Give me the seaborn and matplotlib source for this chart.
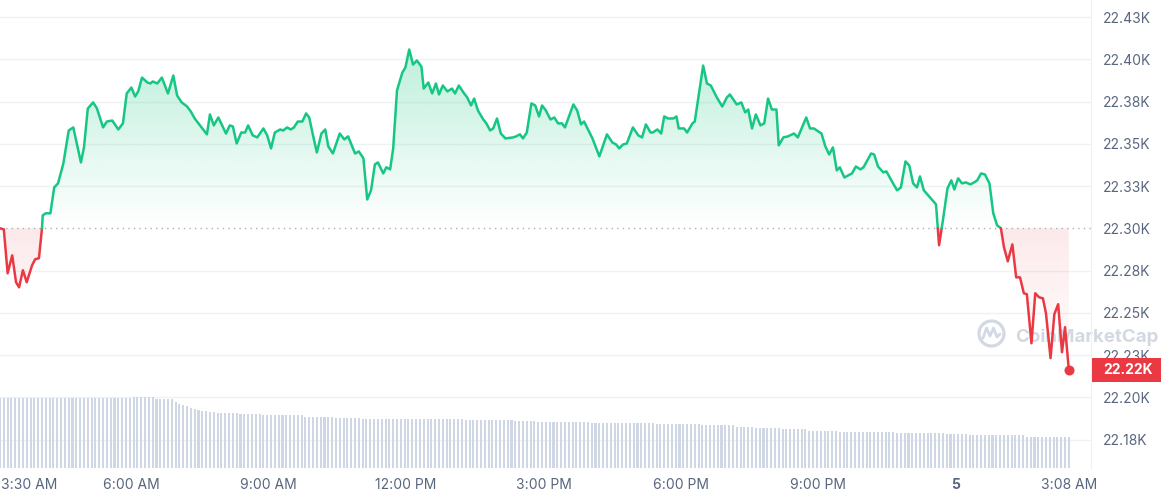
import numpy as np
import pandas as pd
import seaborn as sns
import matplotlib.pyplot as plt
import matplotlib.colors as mcolors
import matplotlib.transforms as mtransforms
from matplotlib.path import Path
from matplotlib.patches import Rectangle

# minutes since 3:08 AM, price in K
minutes = [0, 5, 10, 16, 21, 25, 30, 35, 42, 46, 51, 55, 56, 60, 66, 71, 76, 83, 90, 96,
           106, 110, 115, 122, 127, 135, 140, 147, 155, 161, 166, 172, 177, 181, 186, 193, 197, 200, 206, 212,
           220, 227, 232, 238, 245, 250, 255, 262, 271, 275, 280, 286, 296, 301, 305, 310, 316, 321, 325, 331,
           337, 345, 350, 355, 360, 367, 371, 376, 381, 385, 390, 396, 401, 405, 410, 415, 421, 426, 430, 436,
           445, 451, 456, 465, 470, 476, 481, 486, 491, 495, 502, 506, 511, 515, 520, 527, 531, 536, 541, 546,
           552, 555, 561, 566, 571, 575, 580, 586, 592, 596, 601, 607, 612, 617, 621, 626, 633, 637, 642, 646,
           651, 656, 662, 672, 676, 681, 685, 690, 696, 701, 706, 710, 715, 721, 726, 731, 736, 740, 751, 756,
           761, 765, 776, 785, 795, 802, 807, 811, 816, 821, 829, 836, 841, 846, 852, 855, 861, 866, 870, 875,
           882, 886, 889, 896, 900, 907, 910, 921, 926, 931, 939, 946, 952, 956, 965, 971, 976, 980, 985, 990,
           996, 1001, 1006, 1011, 1017, 1020, 1026, 1032, 1040, 1045, 1056, 1061, 1066, 1076, 1081, 1086, 1091, 1096, 1100, 1106,
           1116, 1121, 1127, 1131, 1141, 1145, 1150, 1157, 1161, 1169, 1175, 1180, 1186, 1191, 1196, 1201, 1205, 1210, 1218, 1226,
           1230, 1235, 1241, 1246, 1250, 1255, 1260, 1265, 1271, 1276, 1280, 1285, 1290, 1296, 1301, 1306, 1311, 1315, 1320, 1326,
           1331, 1336, 1341, 1345, 1351, 1356, 1361, 1366, 1370, 1376, 1381, 1386, 1391, 1395, 1400]

price = [22.3000, 22.2994, 22.2734, 22.2840, 22.2681, 22.2651, 22.2752, 22.2681, 22.2781, 22.2817,
         22.2823, 22.3000, 22.3077, 22.3089, 22.3089, 22.3242, 22.3266, 22.3384, 22.3579, 22.3597,
         22.3390, 22.3479, 22.3709, 22.3745, 22.3709, 22.3597, 22.3632, 22.3638, 22.3585, 22.3621,
         22.3798, 22.3833, 22.3780, 22.3810, 22.3892, 22.3863, 22.3857, 22.3869, 22.3857, 22.3892,
         22.3798, 22.3904, 22.3786, 22.3745, 22.3721, 22.3691, 22.3650, 22.3609, 22.3556, 22.3674,
         22.3609, 22.3656, 22.3561, 22.3609, 22.3603, 22.3502, 22.3567, 22.3567, 22.3609, 22.3550,
         22.3538, 22.3591, 22.3550, 22.3473, 22.3567, 22.3585, 22.3579, 22.3597, 22.3585, 22.3597,
         22.3632, 22.3632, 22.3680, 22.3656, 22.3550, 22.3449, 22.3561, 22.3585, 22.3485, 22.3443,
         22.3561, 22.3526, 22.3544, 22.3443, 22.3455, 22.3414, 22.3171, 22.3225, 22.3378, 22.3390,
         22.3325, 22.3361, 22.3349, 22.3473, 22.3816, 22.3922, 22.3952, 22.4058, 22.3969, 22.3993,
         22.3957, 22.3827, 22.3863, 22.3798, 22.3857, 22.3792, 22.3845, 22.3810, 22.3827, 22.3798,
         22.3845, 22.3804, 22.3774, 22.3727, 22.3768, 22.3697, 22.3644, 22.3621, 22.3579, 22.3591,
         22.3650, 22.3561, 22.3532, 22.3538, 22.3544, 22.3556, 22.3532, 22.3567, 22.3739, 22.3727,
         22.3662, 22.3727, 22.3697, 22.3644, 22.3656, 22.3621, 22.3621, 22.3597, 22.3733, 22.3697,
         22.3615, 22.3632, 22.3532, 22.3426, 22.3556, 22.3508, 22.3496, 22.3473, 22.3496, 22.3502,
         22.3597, 22.3550, 22.3538, 22.3615, 22.3567, 22.3567, 22.3585, 22.3561, 22.3662, 22.3650,
         22.3650, 22.3662, 22.3591, 22.3591, 22.3567, 22.3621, 22.3632, 22.3963, 22.3857, 22.3845,
         22.3774, 22.3721, 22.3774, 22.3792, 22.3733, 22.3745, 22.3686, 22.3703, 22.3591, 22.3674,
         22.3609, 22.3621, 22.3768, 22.3703, 22.3703, 22.3491, 22.3538, 22.3544, 22.3561, 22.3538,
         22.3656, 22.3591, 22.3591, 22.3561, 22.3485, 22.3437, 22.3479, 22.3343, 22.3361, 22.3301,
         22.3325, 22.3366, 22.3349, 22.3361, 22.3443, 22.3437, 22.3366, 22.3331, 22.3337, 22.3272,
         22.3225, 22.3242, 22.3396, 22.3372, 22.3266, 22.3242, 22.3307, 22.3225, 22.3183, 22.3142,
         22.2900, 22.3047, 22.3236, 22.3284, 22.3230, 22.3296, 22.3266, 22.3272, 22.3260, 22.3272,
         22.3284, 22.3325, 22.3319, 22.3266, 22.3089, 22.3018, 22.3000, 22.2888, 22.2805, 22.2905,
         22.2710, 22.2710, 22.2616, 22.2610, 22.2320, 22.2616, 22.2592, 22.2586, 22.2498, 22.2232,
         22.2492, 22.2551, 22.2267, 22.2415, 22.2161]

# volume bars, one every 5 minutes (arbitrary units)
volume = [70, 70, 70, 70, 70, 70, 70, 70, 70, 70, 70, 70, 70, 70,
          70, 70, 70, 70, 70, 70, 70, 70, 70, 70, 70, 70, 70, 70,
          70.5, 70.5, 70.5, 70.5, 70.5, 70.5, 70.5, 71, 71, 71, 71, 71, 71,
          69, 69, 69, 69, 69, 66.5, 64.5, 63, 62, 60.5, 59.5, 58.5, 57.5, 57, 56.5, 56,
          55, 55, 55, 55, 55, 55, 54.5, 54.5, 54.5, 54.5, 54.5, 54.5,
          53.5, 53.5, 53.5, 53.5, 53.5, 53, 53, 53, 53, 53, 53,
          51.5, 51.5, 51.5, 51.5, 51.5, 51.5, 51.5, 51.5, 50, 50, 50, 50, 50, 50, 50,
          49.5, 49.5, 49.5, 49.5, 49.5, 49.5, 49.5, 49.5, 49.5, 49.5, 49.5, 49.5, 49.5, 49.5, 49.5, 49.5, 49.5,
          48.7, 48.7, 48.7, 48.7, 48.7, 48.7, 48.7, 48.7, 48.7, 48.7,
          47.7, 47.7, 47.7, 47.7, 47.7, 47.7, 47.7, 47.7, 47.7, 47.7, 47.7, 47.7, 47.7,
          46.7, 46.7, 46.7, 46.7, 46.7, 46.7,
          45.7, 45.7, 45.7, 45.7, 45.7, 45.7, 45.7, 45.7, 45.7, 45.7, 45.7, 45.7, 45.7, 45.7,
          45, 45, 45, 45, 45, 45, 45, 45, 45, 45, 45, 45, 45, 45, 45, 45, 45,
          44, 44, 44, 44, 44, 44, 44, 44, 44, 44, 44, 44,
          43, 43, 43, 43, 43, 43, 43, 43, 43, 41.5, 41.5, 41.5, 41.5, 41.5,
          40, 40, 40, 40, 40, 40, 40, 38.8, 38.8, 38.8, 38.8, 38.8, 38.8, 38.8,
          37, 37, 37, 37, 37, 37, 37, 37,
          35.7, 35.7, 35.7, 35.7, 35.7, 35.7, 35.7, 35.7, 35.7, 35.7, 35.7, 35.7, 35.7, 35.7, 35.7,
          34.7, 34.7, 34.7, 34.7, 34.7, 34.7, 34.7, 34.7, 34.7, 34.7, 34.7, 34.7, 34.7,
          33.7, 33.7, 33.7, 33.7, 33.7, 33.7,
          32.7, 32.7, 32.7, 32.7, 32.7, 32.7, 32.7, 32.7, 32.7, 32.7, 32.7, 32.7, 32.7, 32.7, 32.7,
          31.3, 31.3, 31.3, 31.3, 31.3, 31.3, 31.3, 31.3, 31.3, 31.3, 31.3, 31.3]
vol_minutes = [5 * i for i in range(len(volume))]

open_price = 22.30
x_ticks = [22, 172, 352, 532, 712, 892, 1072, 1252, 1400]
x_labels = ['3:30 AM', '6:00 AM', '9:00 AM', '12:00 PM', '3:00 PM', '6:00 PM', '9:00 PM', '5', '3:08 AM']
y_ticks = [22.425, 22.400, 22.375, 22.350, 22.325, 22.300, 22.275, 22.250, 22.225, 22.200, 22.175]
y_labels = ['22.43K', '22.40K', '22.38K', '22.35K', '22.33K', '22.30K', '22.28K', '22.25K', '22.23K', '22.20K', '22.18K']

GREEN = '#16c784'
RED = '#ea3943'
GREY = '#58667e'
GRID = '#eff2f5'

sns.set_style('white')
plt.rcParams['font.family'] = ['Inter', 'DejaVu Sans']

fig = plt.figure(figsize=(11.61, 5.0), dpi=100)
ax = fig.add_axes([0, 32 / 500, 1091 / 1161, 468 / 500])
ax2 = ax.twinx()
ax.set_zorder(ax2.get_zorder() + 1)
ax.patch.set_visible(False)

ylo, yhi = 22.1582, 22.4351
xlo, xhi = 0, 1429

# volume
ax2.bar(vol_minutes, volume, width=2.7, color='#cfd6e4', linewidth=0)
ax2.set_ylim(0, max(volume) * 6.6)
ax2.set_yticks([])
for s in ax2.spines.values():
    s.set_visible(False)

# grid lines (behind the volume bars)
blend2 = mtransforms.blended_transform_factory(ax2.transAxes, ax.transData)
for v in y_ticks:
    if v != open_price:
        ax2.plot([0, 1], [v, v], color=GRID, lw=1, transform=blend2, zorder=0)

# insert crossings with the open price
t = np.array(minutes, float)
p = np.array(price, float)
xs, ys = [t[0]], [p[0]]
for i in range(1, len(t)):
    a, b = p[i - 1] - open_price, p[i] - open_price
    if a * b < 0:
        f = a / (a - b)
        xs.append(t[i - 1] + f * (t[i] - t[i - 1]))
        ys.append(open_price)
    xs.append(t[i])
    ys.append(p[i])
xs = np.array(xs)
ys = np.array(ys)

# split into up / down runs
segs = []
cur = [(xs[0], ys[0])]
cur_up = (ys[0] + ys[1]) / 2 >= open_price
for k in range(1, len(xs)):
    up = (ys[k] + ys[k - 1]) / 2 >= open_price
    if up != cur_up:
        segs.append((cur_up, cur))
        cur = [(xs[k - 1], ys[k - 1])]
        cur_up = up
    cur.append((xs[k], ys[k]))
segs.append((cur_up, cur))

rows = []
for k, (up, pts) in enumerate(segs):
    for xx, yy in pts:
        rows.append({'minute': xx, 'price': yy, 'seg': k})
df = pd.DataFrame(rows)
pal = {k: (GREEN if up else RED) for k, (up, _) in enumerate(segs)}


def gradient_fill(where, y0, y1, color, a0, a1):
    coll = ax.fill_between(xs, ys, open_price, where=where, interpolate=True,
                           facecolor='none', edgecolor='none')
    clip = Path.make_compound_path(*coll.get_paths())
    grad = np.zeros((256, 1, 4))
    grad[..., :3] = mcolors.to_rgb(color)
    grad[:, 0, 3] = np.linspace(a0, a1, 256)
    im = ax.imshow(grad, extent=[xs[0], xs[-1], y0, y1], origin='lower',
                   aspect='auto', interpolation='bicubic', zorder=1)
    im.set_clip_path(clip, transform=ax.transData)


gradient_fill(ys >= open_price, open_price, p.max(), GREEN, 0.0, 0.28)
gradient_fill(ys <= open_price, p.min(), open_price, RED, 0.0, 0.11)

ax.axhline(open_price, color='#a6b0c3', lw=1, ls=(0, (1, 3)), zorder=2)

sns.lineplot(data=df, x='minute', y='price', hue='seg', palette=pal, estimator=None,
             sort=False, legend=False, linewidth=1.8, ax=ax, zorder=4,
             solid_joinstyle='round', solid_capstyle='round')

last = price[-1]
ax.scatter([minutes[-1]], [last], s=52, color=RED, zorder=6, clip_on=False, linewidths=0)

ax.set_xlim(xlo, xhi)
ax.set_ylim(ylo, yhi)
ax.set_xlabel('')
ax.set_ylabel('')

ax.yaxis.tick_right()
ax.set_yticks(y_ticks)
ax.set_yticklabels(y_labels)
ax.set_xticks(x_ticks)
ax.set_xticklabels(x_labels)
ax.tick_params(axis='y', length=0, pad=8.5, labelsize=10, labelcolor=GREY)
ax.tick_params(axis='x', length=3, width=1, color='#e3e6eb', pad=4, labelsize=10, labelcolor=GREY)
ax.get_xticklabels()[7].set_fontweight('bold')
first = ax.get_xticklabels()[0]
first.set_transform(first.get_transform() + mtransforms.ScaledTranslation(0.12, 0, fig.dpi_scale_trans))

for name, s in ax.spines.items():
    s.set_visible(name == 'right')
ax.spines['right'].set_color(GRID)

# current price tag
blend = mtransforms.blended_transform_factory(ax.transAxes, ax.transData)
box_h = 24 / 468 * (yhi - ylo)
ax.add_patch(Rectangle((1.0008, last - box_h / 2), 70 / 1091, box_h, transform=blend,
                       facecolor=RED, edgecolor='none', clip_on=False, zorder=5))
ax.text(1103 / 1091, last, f'{last:.2f}K', transform=blend, color='white', fontsize=10,
        fontweight='bold', va='center', ha='left', zorder=6, clip_on=False)

# watermark
wm = '#d3d9e3'
ax.text(1015 / 1091, (468 - 337) / 468, 'CoinMarketCap', transform=ax.transAxes, fontsize=13.5,
        fontweight='bold', color=wm, va='center', ha='left', zorder=1.5, clip_on=False)
cx, cy = 991 / 1091, (468 - 333) / 468
ax.plot([cx], [cy], marker='o', ms=18, mfc='none', mec=wm, mew=2.3,
        transform=ax.transAxes, clip_on=False, zorder=1.5)
mx = [cx + d / 1091 for d in (-8, -4.5, -1, 2.5, 6, 9)]
my = [cy + d / 468 for d in (-5, 5, -3, 5, -4, -1)]
ax.plot(mx, my, color=wm, lw=2, transform=ax.transAxes, clip_on=False, zorder=1.5,
        solid_joinstyle='round')

fig.savefig('out.png', dpi=100)
